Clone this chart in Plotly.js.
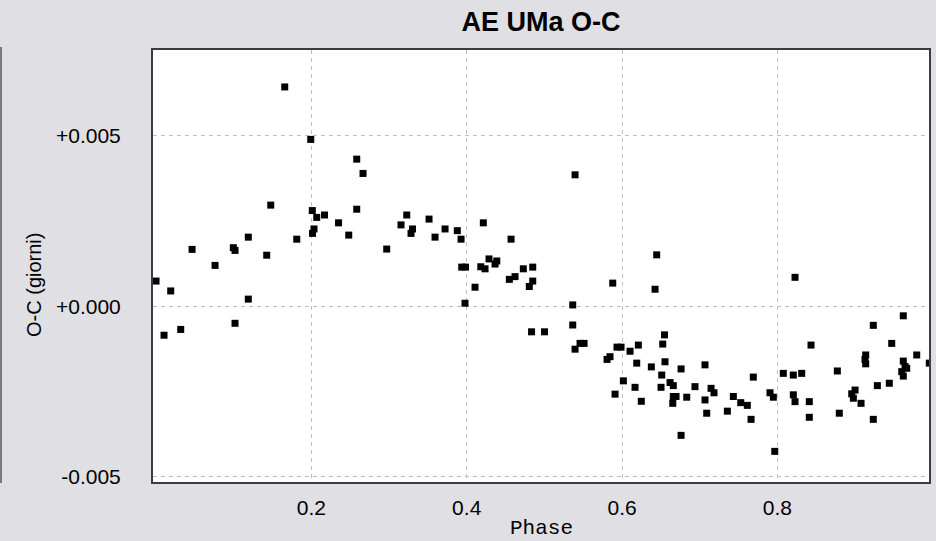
<!DOCTYPE html>
<html>
<head>
<meta charset="utf-8">
<script src="https://cdn.plot.ly/plotly-3.0.1.min.js"></script>
<style>
  html, body { margin: 0; padding: 0; background: #e0dfe3; }
  #chart { width: 936px; height: 541px; }
</style>
</head>
<body>
<div id="chart"></div>
<script>
// Phase of each timing (cycle fraction)
const phase = [
  0.0000, 0.0189, 0.0103, 0.0318, 0.0464, 0.0760, 0.0995, 0.1017, 0.1188, 0.1188,
  0.1017, 0.1425, 0.1477, 0.1657, 0.1812, 0.1992, 0.2012, 0.2069, 0.2169, 0.2034,
  0.2015, 0.2350, 0.2481, 0.2584, 0.2584, 0.2665, 0.2970, 0.3228, 0.3154, 0.3302,
  0.3283, 0.3515, 0.3592, 0.3721, 0.3879, 0.3927, 0.4214, 0.4571, 0.3936, 0.3985,
  0.4181, 0.4236, 0.4287, 0.4387, 0.4365, 0.4107, 0.3978, 0.4549, 0.4622, 0.4729,
  0.4850, 0.4850, 0.4806, 0.4835, 0.5002, 0.5395, 0.5365, 0.5365, 0.5459, 0.5511,
  0.5395, 0.5880, 0.5807, 0.5845, 0.5935, 0.5987, 0.6103, 0.6210, 0.6189, 0.6377,
  0.6017, 0.6167, 0.5910, 0.6248, 0.6446, 0.6425, 0.6547, 0.6524, 0.6553, 0.6511,
  0.6618, 0.6660, 0.6502, 0.6760, 0.6939, 0.6660, 0.6695, 0.6653, 0.6833, 0.6760,
  0.7068, 0.7068, 0.7090, 0.7146, 0.7184, 0.7356, 0.7433, 0.7528, 0.7613, 0.7661,
  0.7690, 0.7905, 0.7948, 0.7966, 0.8076, 0.8205, 0.8313, 0.8227, 0.8205, 0.8227,
  0.8411, 0.8411, 0.8433, 0.8772, 0.8797, 0.8957, 0.9000, 0.8978, 0.9077, 0.9137,
  0.9128, 0.9137, 0.9235, 0.9287, 0.9235, 0.9441, 0.9472, 0.9621, 0.9621, 0.9665,
  0.9601, 0.9621, 0.9643, 0.9794, 0.9956
];

// Observed minus computed residuals, in days
const oc = [
  0.00074, 0.00045, -0.00085, -0.00068, 0.00167, 0.00120, 0.00172, 0.00164, 0.00203, 0.00021,
  -0.00050, 0.00150, 0.00297, 0.00644, 0.00197, 0.00490, 0.00281, 0.00261, 0.00268, 0.00227,
  0.00214, 0.00245, 0.00209, 0.00285, 0.00432, 0.00390, 0.00168, 0.00268, 0.00239, 0.00227,
  0.00214, 0.00256, 0.00203, 0.00227, 0.00222, 0.00197, 0.00245, 0.00197, 0.00115, 0.00115,
  0.00116, 0.00110, 0.00139, 0.00133, 0.00124, 0.00056, 0.00009, 0.00079, 0.00087, 0.00110,
  0.00115, 0.00074, 0.00058, -0.00075, -0.00075, 0.00386, 0.00004, -0.00055, -0.00109, -0.00109,
  -0.00126, 0.00068, -0.00156, -0.00148, -0.00120, -0.00120, -0.00132, -0.00114, -0.00167, -0.00178,
  -0.00219, -0.00238, -0.00258, -0.00279, 0.00151, 0.00050, -0.00084, -0.00111, -0.00163, -0.00202,
  -0.00224, -0.00233, -0.00238, -0.00184, -0.00236, -0.00265, -0.00265, -0.00285, -0.00267, -0.00379,
  -0.00172, -0.00275, -0.00314, -0.00241, -0.00254, -0.00308, -0.00265, -0.00283, -0.00291, -0.00332,
  -0.00208, -0.00254, -0.00267, -0.00426, -0.00197, -0.00202, -0.00197, 0.00085, -0.00260, -0.00280,
  -0.00280, -0.00326, -0.00114, -0.00190, -0.00314, -0.00257, -0.00246, -0.00270, -0.00285, -0.00143,
  -0.00156, -0.00169, -0.00056, -0.00233, -0.00332, -0.00226, -0.00109, -0.00028, -0.00161, -0.00182,
  -0.00192, -0.00205, -0.00177, -0.00143, -0.00167
];

// Axis ticks
const xTicks = [0.2, 0.4, 0.6, 0.8];
const xTickText = ['0.2', '0.4', '0.6', '0.8'];
const yTicks = [-0.005, 0.0, 0.005];
const yTickText = ['-0.005', '+0.000', '+0.005'];

const labelFont = { family: 'Liberation Sans, Arial, sans-serif', size: 21, color: '#000000' };
const gridColor = '#bfbfbf';
const frameColor = '#3c3c3c';

const trace = {
  type: 'scatter',
  mode: 'markers',
  x: phase,
  y: oc,
  marker: { symbol: 'square', size: 7, color: '#000000' },
  cliponaxis: true,
  hoverinfo: 'x+y'
};

const layout = {
  width: 936,
  height: 541,
  paper_bgcolor: '#e0dfe3',
  plot_bgcolor: '#ffffff',
  margin: { l: 153, r: 7, t: 50, b: 59 },
  showlegend: false,
  title: {
    text: 'AE UMa O-C',
    font: { family: 'Liberation Sans, Arial, sans-serif', size: 27, color: '#000000', weight: 'bold' },
    x: 0.5, xref: 'paper', xanchor: 'center',
    y: 1 - 22 / 541, yref: 'container', yanchor: 'middle'
  },
  xaxis: {
    range: [-0.0039, 0.9952],
    tickmode: 'array',
    tickvals: xTicks,
    ticktext: xTickText,
    ticks: '',
    ticklabelstandoff: 6,
    tickfont: labelFont,
    showgrid: true,
    gridcolor: gridColor,
    griddash: '4px,4px',
    gridwidth: 1,
    zeroline: false,
    showline: true,
    mirror: true,
    linecolor: frameColor,
    linewidth: 2
  },
  yaxis: {
    range: [-0.00516, 0.007525],
    tickmode: 'array',
    tickvals: yTicks,
    ticktext: yTickText,
    ticks: '',
    ticklabelstandoff: 26,
    tickfont: labelFont,
    showgrid: true,
    gridcolor: gridColor,
    griddash: '4px,4px',
    gridwidth: 1,
    zeroline: false,
    showline: true,
    mirror: true,
    linecolor: frameColor,
    linewidth: 2
  },
  annotations: [
    {
      text: 'O-C (giorni)',
      xref: 'paper', yref: 'paper',
      x: (34 - 153) / 776, y: (482 - 285) / 432,
      xanchor: 'center', yanchor: 'middle',
      textangle: -90,
      showarrow: false,
      font: { family: 'Liberation Sans, Arial, sans-serif', size: 20, color: '#000000' }
    },
    {
      text: 'Phase',
      xref: 'paper', yref: 'paper',
      x: 0.5, y: (482 - 528) / 432,
      xanchor: 'center', yanchor: 'middle',
      showarrow: false,
      font: { family: '"Liberation Mono", "Courier New", monospace', size: 21, color: '#000000' }
    }
  ],
  shapes: [
    {
      type: 'line',
      xref: 'paper', yref: 'paper',
      x0: (1 - 153) / 776, x1: (1 - 153) / 776,
      y0: (482 - 47) / 432, y1: (482 - 483) / 432,
      line: { color: '#5a5a5a', width: 1.5 }
    }
  ]
};

Plotly.newPlot('chart', [trace], layout, { displayModeBar: false, staticPlot: true });
</script>
</body>
</html>
